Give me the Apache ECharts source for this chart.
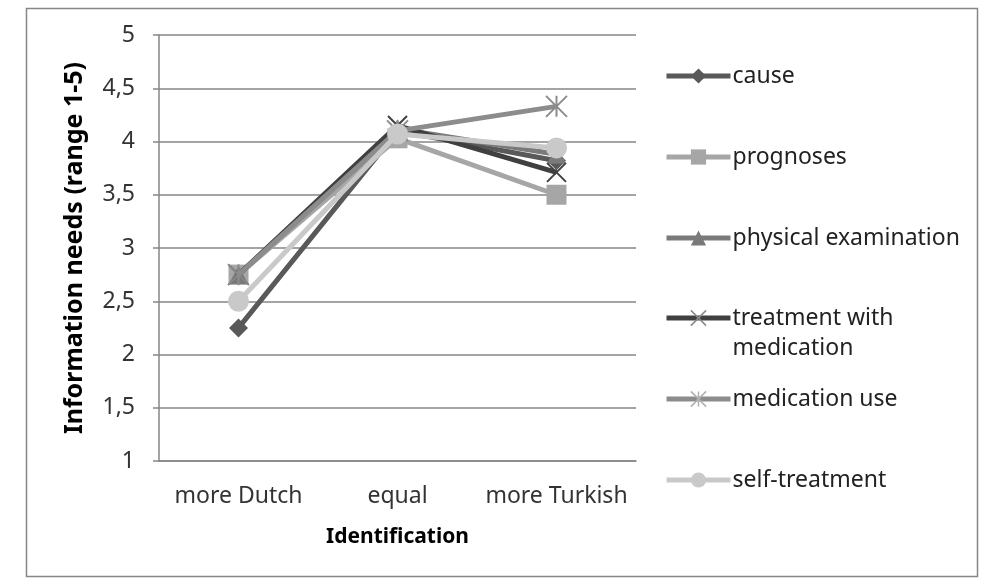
<!DOCTYPE html>
<html>
<head>
<meta charset="utf-8">
<script src="https://cdn.jsdelivr.net/npm/echarts@6/dist/echarts.min.js"></script>
<style>html,body{margin:0;padding:0;background:#fff;}#c{width:994px;height:584px;}</style>
</head>
<body>
<div id="c"></div>
<script>
const categories = ['more Dutch', 'equal', 'more Turkish'];
const seriesNames = ['cause', 'prognoses', 'physical examination', 'treatment with medication', 'medication use', 'self-treatment'];
const cause = [2.25, 4.10, 3.82];
const prognoses = [2.75, 4.03, 3.50];
const physicalExamination = [2.75, 4.12, 3.88];
const treatmentWithMedication = [2.75, 4.15, 3.71];
const medicationUse = [2.75, 4.10, 4.33];
const selfTreatment = [2.50, 4.07, 3.94];
const yTicks = [1, 1.5, 2, 2.5, 3, 3.5, 4, 4.5, 5];

const FONT = '"Noto Sans", "Open Sans", sans-serif';
const colors = ['#595959', '#a6a6a6', '#7a7a7a', '#404040', '#8c8c8c', '#c9c9c9'];
const xPath = 'path://M0,0L10,10M10,0L0,10';
const starPath = 'path://M0,0L10,10M10,0L0,10M5,0L5,10';
const symbols = ['diamond', 'rect', 'triangle', xPath, starPath, 'circle'];
const symbolSizes = [19, 20, 19, 19, 21, 21];
const values = [cause, prognoses, physicalExamination, treatmentWithMedication, medicationUse, selfTreatment];
const legendCenters = [76, 157, 238, 318, 399, 480];

const series = seriesNames.map((n, i) => {
  const isStroke = i === 3 || i === 4;
  return {
    name: n, type: 'line', data: values[i],
    symbol: symbols[i], symbolSize: symbolSizes[i],
    lineStyle: { color: colors[i], width: 5 },
    itemStyle: isStroke ? { color: 'rgba(0,0,0,0)', borderColor: colors[i], borderWidth: 2 } : { color: colors[i], borderWidth: 0 },
    z: 2 + i
  };
});

const LH = 30;
const legends = seriesNames.map((n, i) => {
  const twoLine = i === 3;
  const isStroke = i === 3 || i === 4;
  return {
    data: [n], left: 664,
    top: twoLine ? legendCenters[i] - LH * 1.5 : legendCenters[i] - LH / 2,
    orient: 'vertical', itemWidth: 64, itemHeight: 19, itemGap: 0, padding: 0,
    formatter: twoLine ? '\ntreatment with\nmedication' : '{name}',
    lineStyle: { width: 5 },
    itemStyle: isStroke ? { color: 'rgba(0,0,0,0)', borderColor: i === 3 ? '#8a8a8a' : '#b0b0b0', borderWidth: 1.5 } : {},
    textStyle: { fontFamily: FONT, fontSize: 23, color: '#222', lineHeight: LH, padding: [0, 0, 0, -3] },
    selectedMode: false
  };
});

const chart = echarts.init(document.getElementById('c'), null, { renderer: 'canvas' });
chart.setOption({
  animation: false,
  backgroundColor: '#fff',
  graphic: [{ type: 'rect', shape: { x: 26.5, y: 8.5, width: 951, height: 568 }, style: { fill: 'none', stroke: '#868686', lineWidth: 1.5 }, silent: true }],
  grid: { left: 159, right: 358, top: 35, bottom: 123 },
  legend: legends,
  xAxis: {
    type: 'category', data: categories, boundaryGap: true,
    name: 'Identification', nameLocation: 'middle', nameGap: 66,
    nameTextStyle: { fontFamily: FONT, fontSize: 21, fontWeight: 'bold', color: '#000' },
    axisLine: { lineStyle: { color: '#868686', width: 1.5 } },
    axisTick: { show: false },
    axisLabel: { interval: 0, fontFamily: FONT, fontSize: 23, color: '#333', margin: 24 }
  },
  yAxis: {
    type: 'value', min: 1, max: 5, interval: 0.5,
    name: 'Information needs (range 1-5)', nameLocation: 'middle', nameGap: 72, nameRotate: 90,
    nameTextStyle: { fontFamily: FONT, fontSize: 25, fontWeight: 'bold', color: '#000' },
    axisLine: { show: true, lineStyle: { color: '#868686', width: 1.5 } },
    axisTick: { show: true, length: 6, lineStyle: { color: '#868686', width: 1.5 } },
    splitLine: { lineStyle: { color: '#868686', width: 1.5 } },
    axisLabel: { fontFamily: FONT, fontSize: 23, color: '#333', margin: 24,
      formatter: v => yTicks.indexOf(v) >= 0 ? String(v).replace('.', ',') : '' }
  },
  series: series
});
</script>
</body>
</html>
